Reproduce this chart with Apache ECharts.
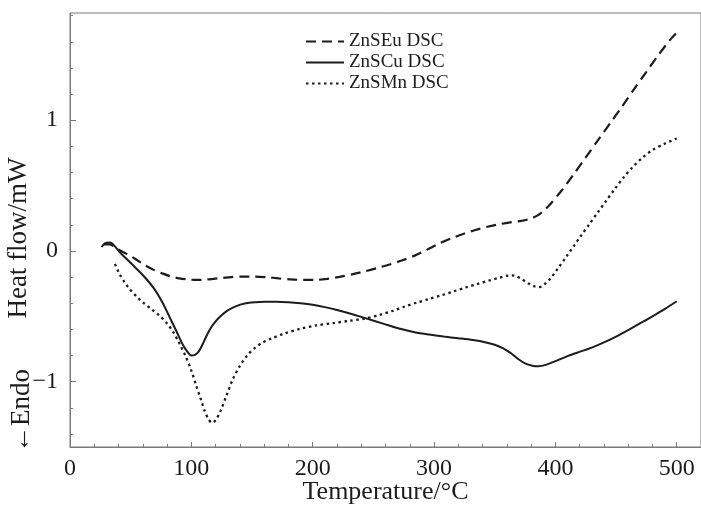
<!DOCTYPE html>
<html><head><meta charset="utf-8">
<script src="https://cdn.jsdelivr.net/npm/echarts@6/dist/echarts.min.js"></script>
<style>html,body{margin:0;padding:0;background:#fff}#c{width:701px;height:506px}</style>
</head><body><div id="c"></div>
<script>
const seriesNames = ['ZnSEu DSC', 'ZnSCu DSC', 'ZnSMn DSC'];
const xName = 'Temperature/°C';
const yName = 'Heat flow/mW';
const endoLabel = '←Endo';

const xMajorTicks = [0, 100, 200, 300, 400, 500];
const xMinorTicks = [20, 40, 60, 80, 120, 140, 160, 180, 220, 240, 260, 280, 320, 340, 360, 380, 420, 440, 460, 480];
const yMajorTicks = [-1, 0, 1];
const yMinorTicks = [-1.4, -1.2, -0.8, -0.6, -0.4, -0.2, 0.2, 0.4, 0.6, 0.8, 1.2, 1.4, 1.6, 1.8];

const znsEu = [[28,0.05],[33,0.05],[38,0.02],[44,-0.01],[50,-0.04],[56,-0.075],[62,-0.11],[69,-0.145],[76,-0.172],[83,-0.195],[90,-0.21],[97,-0.218],[104,-0.222],[111,-0.22],[118,-0.214],[125,-0.207],[133,-0.2],[142,-0.196],[152,-0.196],[162,-0.201],[172,-0.21],[182,-0.218],[192,-0.222],[202,-0.222],[212,-0.214],[222,-0.199],[233,-0.178],[244,-0.154],[254,-0.129],[264,-0.102],[274,-0.072],[284,-0.036],[294,0.008],[304,0.055],[314,0.095],[324,0.13],[334,0.16],[344,0.185],[354,0.205],[364,0.22],[372,0.23],[379,0.245],[385,0.27],[390,0.305],[395,0.35],[405,0.46],[415,0.585],[425,0.715],[435,0.845],[445,0.975],[455,1.105],[465,1.24],[475,1.37],[485,1.50],[495,1.62],[500,1.67]];

const znsCu = [[26,0.03],[29,0.06],[33,0.065],[37,0.035],[41,-0.01],[48,-0.073],[55,-0.138],[62,-0.205],[69,-0.285],[76,-0.39],[82,-0.505],[88,-0.62],[93,-0.718],[97,-0.775],[100,-0.80],[103,-0.795],[106,-0.77],[109,-0.72],[112,-0.66],[115,-0.605],[119,-0.55],[124,-0.50],[130,-0.455],[137,-0.422],[144,-0.403],[152,-0.393],[161,-0.389],[170,-0.388],[180,-0.392],[190,-0.40],[200,-0.412],[210,-0.43],[220,-0.452],[232,-0.482],[244,-0.516],[258,-0.556],[272,-0.596],[284,-0.622],[296,-0.64],[308,-0.655],[320,-0.668],[332,-0.682],[342,-0.698],[350,-0.718],[357,-0.745],[363,-0.78],[369,-0.825],[375,-0.86],[381,-0.878],[386,-0.882],[392,-0.872],[400,-0.843],[410,-0.805],[420,-0.772],[430,-0.74],[440,-0.70],[450,-0.655],[460,-0.605],[470,-0.553],[480,-0.50],[490,-0.445],[500,-0.385]];

const znsMn = [[37,-0.10],[39,-0.14],[41,-0.18],[45,-0.24],[49,-0.29],[55,-0.35],[60,-0.393],[67,-0.445],[74,-0.497],[80,-0.555],[85,-0.62],[90,-0.705],[95,-0.80],[100,-0.915],[104,-1.03],[108,-1.14],[111,-1.225],[114,-1.285],[117,-1.315],[120,-1.295],[124,-1.225],[129,-1.105],[134,-0.985],[140,-0.88],[146,-0.80],[152,-0.745],[158,-0.705],[166,-0.67],[176,-0.634],[190,-0.595],[203,-0.57],[217,-0.552],[230,-0.535],[244,-0.516],[255,-0.49],[266,-0.458],[276,-0.425],[286,-0.395],[296,-0.367],[306,-0.34],[316,-0.31],[326,-0.28],[336,-0.252],[346,-0.225],[354,-0.205],[360,-0.19],[364,-0.187],[368,-0.195],[372,-0.215],[378,-0.25],[383,-0.272],[387,-0.277],[391,-0.255],[396,-0.21],[402,-0.135],[409,-0.045],[415,0.035],[421,0.115],[428,0.205],[435,0.295],[442,0.385],[449,0.475],[456,0.56],[464,0.645],[472,0.715],[480,0.772],[490,0.82],[500,0.86]];

const FONT = 'Liberation Serif';
const INK = '#1c1c1c';
const AX = '#7a7a7a';
const fmtY = v => v < 0 ? '\u2212' + Math.abs(v) : String(v);

const chart = echarts.init(document.getElementById('c'), null, {renderer: 'canvas'});
const baseX = {type: 'value', min: 0, max: 520, splitLine: {show: false}};
const baseY = {type: 'value', min: -1.5, max: 1.82, splitLine: {show: false}};

chart.setOption({
  backgroundColor: '#fff',
  animation: false,
  grid: {left: 70, right: 0, top: 13, bottom: 59, containLabel: false, outerBoundsMode: 'none',
         show: true, borderColor: AX, borderWidth: 1, backgroundColor: 'transparent'},
  legend: {
    data: seriesNames, orient: 'vertical', left: 305, top: 32, padding: 0, itemWidth: 38, itemHeight: 12, itemGap: 2,
    itemStyle: {opacity: 0},
    textStyle: {fontFamily: FONT, fontSize: 19, color: INK}
  },
  xAxis: [
    Object.assign({}, baseX, {
      name: xName, nameLocation: 'middle', nameGap: 32, nameMoveOverlap: false,
      nameTextStyle: {fontFamily: FONT, fontSize: 26, color: INK},
      axisLine: {show: true, onZero: false, lineStyle: {color: AX, width: 1}},
      axisTick: {show: true, inside: true, length: 5, customValues: xMajorTicks, lineStyle: {color: AX}},
      axisLabel: {customValues: xMajorTicks, fontFamily: FONT, fontSize: 24, color: INK, margin: 10}
    }),
    Object.assign({}, baseX, {
      position: 'bottom',
      axisLine: {show: false, onZero: false},
      axisTick: {show: true, inside: true, length: 3, customValues: xMinorTicks, lineStyle: {color: AX}},
      axisLabel: {show: false}
    })
  ],
  yAxis: [
    Object.assign({}, baseY, {
      name: yName, nameLocation: 'middle', nameGap: 38, nameRotate: 90, nameMoveOverlap: false,
      nameTextStyle: {fontFamily: FONT, fontSize: 27, color: INK, padding: [0, 16, 0, 0]},
      axisLine: {show: true, onZero: false, lineStyle: {color: AX, width: 1}},
      axisTick: {show: true, inside: true, length: 6, customValues: yMajorTicks, lineStyle: {color: AX}},
      axisLabel: {customValues: yMajorTicks, formatter: fmtY, fontFamily: FONT, fontSize: 24, color: INK, margin: 12}
    }),
    Object.assign({}, baseY, {
      position: 'left',
      axisLine: {show: false, onZero: false},
      axisTick: {show: true, inside: true, length: 3, customValues: yMinorTicks, lineStyle: {color: AX}},
      axisLabel: {show: false}
    })
  ],
  graphic: [{
    type: 'text', x: 22, y: 411, rotation: Math.PI / 2,
    style: {text: endoLabel, font: '27px "Liberation Serif"', fill: INK, textAlign: 'center', textVerticalAlign: 'middle'}
  }],
  series: [
    {name: seriesNames[0], type: 'line', data: znsEu, symbol: 'none', smooth: 0.3,
     lineStyle: {color: INK, width: 2.2, type: [10, 6]}, itemStyle: {color: INK}},
    {name: seriesNames[1], type: 'line', data: znsCu, symbol: 'none', smooth: 0.3,
     lineStyle: {color: INK, width: 2}, itemStyle: {color: INK}},
    {name: seriesNames[2], type: 'line', data: znsMn, symbol: 'none', smooth: 0.3,
     lineStyle: {color: INK, width: 2.3, type: [2.5, 3.5]}, itemStyle: {color: INK}}
  ]
});
</script>
</body></html>
